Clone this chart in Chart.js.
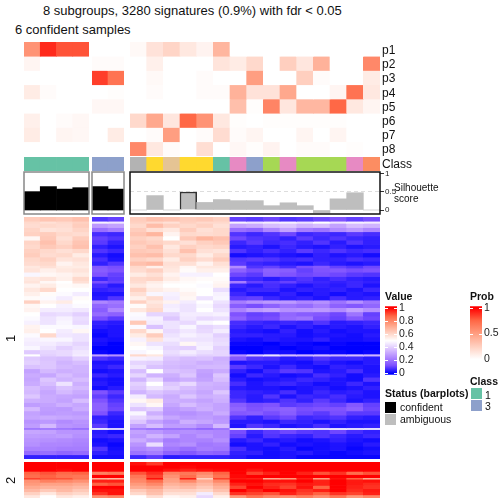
<!DOCTYPE html>
<html>
<head>
<meta charset="utf-8">
<script src="https://cdn.jsdelivr.net/npm/chart.js@4/dist/chart.umd.min.js"></script>
<style>
  html, body { margin: 0; padding: 0; background: #fff; }
  #page { position: relative; width: 504px; height: 504px; overflow: hidden; font-family: "Liberation Sans", sans-serif; color: #111; }
  #page canvas { position: absolute; }
  #page span { position: absolute; white-space: nowrap; line-height: 1; }
</style>
</head>
<body>
<div id="page"></div>
<script>
// membership probability, one line per subgroup, 21 sample columns
const probLabels = ["p1", "p2", "p3", "p4", "p5", "p6", "p7", "p8"];
const probRows = [
    [.55, .9, .8, .8, 0, 0, .03, .15, .22, .12, .06, .38, 0, 0, 0, 0, 0, 0, 0, 0, 0],
    [.05, 0, 0, 0, .02, .02, 0, .08, 0, 0, 0, .14, .1, .2, 0, .25, .13, .4, 0, 0, .6],
    [0, 0, 0, 0, .85, .7, 0, .03, 0, 0, .02, 0, 0, .5, 0, 0, .25, .02, 0, 0, .1],
    [.1, .02, 0, 0, 0, .01, 0, .02, 0, 0, .02, .02, .4, .15, .15, .45, 0, 0, .05, .7, .12],
    [0, 0, 0, 0, .04, .04, 0, 0, 0, 0, 0, 0, .33, .01, .62, .13, .37, .37, .75, .12, .05],
    [.08, 0, .02, .04, 0, 0, .2, .45, .13, .75, .55, .12, .01, 0, .01, .01, .01, .01, .01, 0, 0],
    [.1, 0, .05, .04, 0, .1, 0, .02, .5, 0, .02, .18, .02, .05, 0, 0, .05, 0, .05, 0, 0],
    [0, 0, 0, 0, 0, 0, .6, .12, .02, 0, .17, 0, .04, .01, .06, 0, .02, .02, 0, .01, 0],
];

const sampleClasses = [1, 1, 1, 1, 3, 3, 8, 6, 7, 6, 6, 1, 4, 3, 5, 4, 5, 5, 5, 4, 2];
const silhouette = [.51, .65, .58, .62, .65, .58, 0, .4, 0, .5, .21, .29, .26, .26, .12, .2, .12, -.08, .31, .48, 0];

// signature values in percent, cluster 1 then cluster 2
const valueRows1 = [
    [63, 65, 64, 66, 8, 10, 63, 66, 65, 63, 64, 62, 10, 9, 11, 8, 9, 11, 13, 10, 12],
    [60, 58, 60, 62, 47, 45, 62, 60, 58, 62, 60, 60, 47, 44, 46, 47, 44, 50, 45, 47, 46],
    [59, 60, 59, 63, 28, 30, 60, 67, 62, 60, 62, 58, 30, 32, 36, 38, 34, 36, 30, 36, 34],
    [61, 57, 58, 61, 19, 22, 63, 58, 56, 63, 58, 60, 19, 17, 24, 30, 22, 20, 25, 28, 24],
    [62, 63, 60, 59, 7, 6, 65, 69, 53, 60, 59, 60, 8, 6, 8, 11, 6, 7, 6, 9, 7],
    [52, 64, 58, 63, 10, 8, 62, 60, 50, 64, 69, 66, 11, 8, 7, 5, 9, 6, 8, 6, 5],
    [61, 66, 60, 65, 9, 5, 64, 62, 60, 58, 62, 64, 6, 9, 6, 7, 5, 8, 4, 8, 5],
    [60, 64, 62, 66, 5, 3, 62, 66, 56, 62, 60, 61, 4, 5, 3, 6, 4, 3, 5, 3, 4],
    [62, 60, 58, 60, 8, 6, 64, 63, 58, 66, 58, 57, 8, 5, 7, 5, 9, 6, 8, 6, 7],
    [63, 59, 60, 55, 4, 2, 66, 67, 60, 60, 55, 60, 2, 3, 4, 3, 2, 5, 3, 4, 2],
    [60, 62, 57, 58, 7, 3, 62, 60, 55, 62, 59, 63, 8, 9, 8, 6, 7, 5, 5, 7, 6],
    [59, 60, 53, 56, 5, 8, 66, 68, 58, 58, 53, 58, 9, 6, 5, 4, 3, 6, 4, 3, 4],
    [56, 58, 55, 55, 14, 12, 60, 54, 57, 52, 56, 56, 25, 8, 10, 7, 12, 14, 10, 8, 11],
    [57, 54, 56, 57, 15, 13, 59, 62, 56, 51, 54, 54, 16, 12, 16, 15, 10, 13, 14, 12, 13],
    [48, 52, 53, 55, 13, 10, 55, 58, 53, 47, 47, 50, 11, 9, 15, 13, 11, 12, 11, 9, 8],
    [56, 57, 54, 60, 6, 9, 60, 61, 55, 52, 51, 51, 7, 6, 4, 6, 8, 5, 7, 5, 4],
    [57, 52, 50, 58, 12, 10, 59, 55, 52, 51, 50, 52, 22, 10, 8, 10, 7, 6, 5, 6, 5],
    [53, 55, 51, 52, 7, 4, 56, 53, 50, 50, 49, 53, 6, 4, 7, 5, 3, 5, 4, 6, 3],
    [56, 60, 50, 50, 5, 6, 62, 55, 53, 51, 50, 43, 4, 6, 6, 3, 5, 4, 5, 3, 6],
    [54, 51, 49, 46, 3, 3, 58, 48, 47, 53, 50, 47, 6, 3, 3, 5, 2, 4, 2, 4, 3],
    [51, 49, 46, 51, 4, 8, 54, 59, 46, 52, 44, 48, 9, 10, 6, 4, 5, 3, 7, 4, 5],
    [62, 53, 55, 50, 24, 21, 62, 56, 53, 46, 50, 44, 22, 26, 28, 28, 24, 26, 20, 26, 20],
    [52, 50, 47, 49, 17, 19, 51, 58, 46, 44, 48, 42, 15, 12, 16, 20, 18, 22, 16, 14, 17],
    [53, 46, 46, 45, 15, 24, 56, 60, 47, 44, 50, 44, 23, 28, 30, 26, 27, 28, 25, 30, 26],
    [50, 42, 43, 40, 18, 16, 49, 41, 41, 46, 46, 47, 13, 10, 11, 17, 15, 14, 11, 20, 10],
    [49, 44, 47, 43, 12, 9, 48, 47, 38, 45, 42, 43, 16, 11, 12, 18, 20, 12, 10, 14, 11],
    [47, 44, 48, 42, 5, 4, 64, 46, 44, 42, 48, 50, 7, 6, 5, 6, 5, 8, 4, 5, 6],
    [53, 49, 49, 48, 4, 3, 49, 37, 44, 48, 41, 43, 6, 4, 6, 3, 5, 3, 4, 3, 5],
    [54, 50, 46, 52, 2, 3, 60, 52, 42, 45, 42, 46, 4, 3, 2, 5, 2, 4, 2, 3, 3],
    [49, 60, 45, 44, 1, 3, 55, 63, 44, 47, 45, 40, 5, 5, 4, 4, 2, 3, 3, 2, 4],
    [47, 48, 48, 44, 3, 2, 47, 57, 46, 44, 44, 42, 3, 2, 4, 3, 3, 5, 2, 2, 3],
    [46, 46, 44, 41, 2, 0, 52, 44, 43, 52, 46, 43, 1, 1, 0, 2, 1, 0, 1, 0, 0],
    [48, 44, 40, 43, 0, 0, 50, 48, 41, 40, 47, 40, 0, 0, 1, 0, 1, 2, 0, 0, 0],
    [39, 41, 42, 45, 1, 0, 48, 50, 43, 46, 43, 41, 1, 0, 2, 2, 0, 1, 1, 0, 1],
    [50, 40, 42, 46, 30, 26, 60, 56, 41, 43, 40, 41, 26, 38, 44, 36, 34, 36, 34, 36, 34],
    [39, 37, 36, 40, 8, 6, 47, 46, 38, 36, 37, 33, 14, 8, 7, 4, 5, 8, 6, 6, 4],
    [40, 38, 34, 36, 3, 3, 41, 40, 36, 35, 33, 34, 3, 4, 4, 3, 2, 5, 3, 2, 4],
    [37, 38, 35, 34, 4, 6, 44, 37, 35, 34, 35, 35, 9, 6, 3, 6, 3, 2, 5, 4, 3],
    [30, 35, 33, 34, 2, 3, 36, 50, 37, 36, 30, 32, 5, 2, 6, 9, 8, 3, 4, 7, 3],
    [32, 31, 36, 33, 6, 4, 41, 34, 33, 38, 29, 38, 2, 6, 4, 2, 3, 7, 5, 2, 4],
    [31, 38, 34, 36, 3, 2, 34, 42, 31, 33, 30, 36, 4, 2, 3, 4, 6, 5, 3, 2, 8],
    [32, 36, 44, 33, 4, 2, 40, 50, 38, 42, 34, 33, 7, 3, 5, 6, 4, 2, 3, 6, 3],
    [36, 33, 37, 35, 2, 4, 38, 44, 40, 36, 33, 32, 4, 3, 3, 2, 3, 4, 2, 3, 5],
    [35, 31, 35, 32, 13, 9, 34, 38, 35, 34, 31, 38, 6, 5, 4, 7, 3, 6, 4, 5, 3],
    [38, 32, 31, 30, 10, 6, 46, 35, 32, 38, 33, 34, 6, 4, 8, 3, 6, 5, 7, 4, 3],
    [33, 32, 30, 36, 13, 8, 52, 55, 33, 32, 30, 33, 8, 4, 5, 8, 5, 9, 6, 3, 5],
    [29, 30, 33, 31, 16, 10, 44, 52, 31, 36, 32, 30, 15, 12, 13, 9, 10, 11, 10, 14, 10],
    [35, 29, 28, 32, 16, 11, 38, 40, 28, 30, 33, 30, 17, 13, 15, 16, 12, 13, 13, 16, 11],
    [30, 28, 29, 28, 13, 6, 48, 33, 27, 26, 28, 32, 14, 15, 12, 15, 11, 9, 12, 9, 9],
    [31, 32, 31, 30, 5, 4, 42, 38, 31, 28, 29, 27, 8, 5, 9, 11, 6, 7, 8, 5, 4],
    [27, 28, 25, 27, 6, 3, 38, 30, 26, 33, 31, 28, 4, 4, 3, 6, 5, 3, 5, 3, 3],
    [29, 35, 27, 26, 9, 3, 30, 36, 29, 29, 25, 35, 3, 8, 6, 3, 4, 7, 3, 4, 5],
    [20, 20, 20, 18, 50, 46, 21, 18, 19, 19, 16, 19, 48, 47, 48, 49, 47, 48, 49, 48, 49],
    [31, 30, 27, 27, 4, 2, 30, 28, 25, 26, 25, 24, 12, 6, 9, 11, 9, 8, 11, 7, 5],
    [29, 28, 29, 26, 5, 6, 28, 34, 30, 24, 27, 24, 10, 4, 8, 6, 5, 8, 6, 4, 6],
    [27, 26, 25, 24, 2, 3, 32, 28, 22, 24, 23, 26, 4, 6, 3, 4, 2, 3, 5, 3, 2],
    [26, 24, 24, 23, 3, 1, 27, 43, 24, 26, 21, 22, 2, 3, 5, 2, 3, 2, 3, 2, 4],
    [23, 23, 22, 22, 8, 2, 24, 26, 21, 19, 22, 21, 7, 3, 2, 4, 1, 2, 3, 1, 2],
    [18, 19, 17, 18, 5, 3, 20, 22, 16, 14, 17, 16, 5, 5, 2, 3, 4, 2, 1, 2, 3],
    [5, 5, 5, 5, 2, 2, 6, 9, 4, 5, 5, 5, 4, 2, 2, 3, 1, 1, 1, 1, 1],
];
// thin stripes in the heatmap take a smaller share of the row height
const rowWeights1 = [1, .5, 1, 1, 1, 1, 1, 1, 1, 1, 1, 1, .6, 1, 1, 1, .6, 1, 1, 1, 1, .8, 1, 1, 1, 1, 1, 1, 1, 1, 1, 1, 1, 1, .5, 1, 1, 1, 1, 1, 1, 1, 1, 1, 1, 1, 1, 1, 1, 1, 1, 1, .4, 1, 1, 1, 1, 1, 1, 1];
const valueRows2 = [
    [100, 100, 100, 100, 100, 100, 98, 93, 100, 100, 100, 100, 100, 100, 100, 100, 100, 100, 100, 100, 100],
    [100, 100, 100, 100, 100, 100, 100, 100, 100, 99, 100, 100, 100, 100, 100, 100, 100, 100, 100, 100, 100],
    [100, 100, 99, 100, 100, 100, 100, 100, 98, 96, 98, 99, 100, 98, 100, 100, 100, 100, 100, 100, 100],
    [88, 90, 87, 88, 82, 84, 90, 95, 82, 84, 80, 88, 100, 92, 96, 100, 96, 90, 94, 86, 90],
    [86, 88, 85, 84, 100, 100, 84, 92, 78, 86, 76, 85, 99, 100, 100, 100, 100, 100, 100, 100, 100],
    [92, 90, 90, 85, 70, 68, 82, 98, 75, 96, 62, 92, 97, 96, 72, 76, 96, 75, 98, 88, 72],
    [78, 82, 80, 78, 96, 96, 80, 86, 74, 80, 72, 80, 100, 100, 98, 98, 100, 96, 100, 97, 98],
    [76, 74, 74, 72, 88, 90, 76, 80, 70, 72, 68, 74, 96, 98, 95, 94, 97, 96, 100, 97, 95],
    [72, 70, 70, 68, 100, 100, 72, 74, 66, 68, 64, 70, 92, 100, 96, 92, 98, 88, 100, 96, 94],
    [68, 64, 68, 64, 98, 98, 64, 68, 62, 62, 60, 66, 100, 96, 100, 98, 94, 96, 100, 95, 97],
    [62, 56, 62, 60, 94, 98, 60, 66, 58, 58, 46, 60, 94, 92, 90, 96, 92, 88, 94, 92, 96],
    [56, 50, 56, 54, 78, 80, 50, 58, 52, 54, 42, 54, 76, 84, 80, 78, 82, 78, 84, 76, 80],
];
const rowWeights2 = [1, 1, 1, 1, 1, .5, 1, 1, 1, 1, 1, 1];

const valueTicks = [0, .2, .4, .6, .8, 1];
const probTicks = [0, .5, 1];
const silhouetteTicks = [0, .5, 1];
const classLegend = [1, 3];

// sample columns of each split: first and one-past-last index
const splits = [[0, 4], [4, 6], [6, 21]];
const splitX = [[24, 89], [92, 124], [130, 380]];

const classColors = { 1: "#66C2A5", 2: "#FC8D62", 3: "#8DA0CB", 4: "#E78AC3", 5: "#A6D854", 6: "#FFD92F", 7: "#E5C494", 8: "#B3B3B3" };

// blue-white-red ramp, interpolated in Lab in the original so the stops are Lab samples
const rampStops = [
    [0, [0, 0, 255]], [.125, [126, 81, 255]], [.25, [178, 139, 255]], [.375, [220, 196, 255]],
    [.5, [255, 255, 255]], [.625, [255, 207, 191]], [.75, [255, 158, 129]], [.875, [255, 104, 70]], [1, [255, 0, 0]],
];

function rampColor(v) {
    v = Math.min(1, Math.max(0, v));
    for (let i = 1; i < rampStops.length; i++) {
        const [a, ca] = rampStops[i - 1];
        const [b, cb] = rampStops[i];
        if (v <= b) {
            const t = (v - a) / (b - a);
            return "rgb(" + ca.map((c, k) => Math.round(c + (cb[k] - c) * t)).join(",") + ")";
        }
    }
    return "rgb(255,0,0)";
}
const valueColor = (pct) => rampColor(pct / 100);
const probColor = (p) => rampColor(.5 + p / 2);

const page = document.getElementById("page");

function addCanvas(x, y, w, h) {
    const canvas = document.createElement("canvas");
    canvas.width = w;
    canvas.height = h;
    canvas.style.left = x + "px";
    canvas.style.top = y + "px";
    page.appendChild(canvas);
    return canvas;
}

function addText(text, x, y, size, extra) {
    const span = document.createElement("span");
    span.textContent = text;
    span.style.left = x + "px";
    span.style.top = y - size / 2 + "px";
    span.style.fontSize = size + "px";
    Object.assign(span.style, extra || {});
    page.appendChild(span);
    return span;
}

const baseOptions = {
    responsive: false,
    animation: false,
    events: [],
    plugins: { legend: { display: false }, tooltip: { enabled: false } },
};

// heatmap block: stacked bars, one dataset per row, each cell coloured from its value
function heatChart(x, y, w, h, rows, toColor, weights) {
    const total = weights ? weights.reduce((a, b) => a + b, 0) : rows.length;
    new Chart(addCanvas(x, y, w, h), {
        type: "bar",
        data: {
            labels: rows[0].map((_, i) => i),
            datasets: rows.map((row, r) => ({
                data: row.map(() => (weights ? weights[r] : 1)),
                backgroundColor: row.map(toColor),
                borderWidth: 0,
                categoryPercentage: 1,
                barPercentage: 1,
            })),
        },
        options: {
            ...baseOptions,
            layout: { padding: 0 },
            scales: {
                x: { display: false, stacked: true },
                y: { display: false, stacked: true, reverse: true, min: 0, max: total },
            },
        },
    });
}

const framePlugin = {
    id: "frame",
    afterDraw(chart, args, opts) {
        const a = chart.chartArea;
        chart.ctx.save();
        chart.ctx.strokeStyle = opts.color;
        chart.ctx.lineWidth = opts.width;
        chart.ctx.strokeRect(a.left, a.top, a.right - a.left, a.bottom - a.top);
        chart.ctx.restore();
    },
};

// silhouette bars, the last split carries the axis
function silhouetteChart(x0, x1, from, to, showAxis) {
    const pad = 6;
    const axisW = showAxis ? 24 : 0;
    const values = silhouette.slice(from, to);
    new Chart(addCanvas(x0 - pad, 172 - pad, x1 - x0 + pad + axisW + (showAxis ? 0 : pad), 42 + pad * 2), {
        type: "bar",
        data: {
            labels: values.map((_, i) => i),
            datasets: [{
                data: values,
                backgroundColor: values.map((_, i) => (from + i < 6 ? "#000" : "#BEBEBE")),
                borderColor: "#333",
                borderWidth: values.map((_, i) => (from + i === 9 ? 1.5 : 0)),
                categoryPercentage: 1,
                barPercentage: 1,
            }],
        },
        options: {
            ...baseOptions,
            layout: { padding: { left: pad, top: pad, bottom: pad, right: showAxis ? 0 : pad } },
            plugins: {
                ...baseOptions.plugins,
                frame: showAxis ? { color: "#111", width: 1.5 } : { color: "#888", width: 1.5 },
            },
            scales: {
                x: { display: false },
                y: {
                    display: showAxis,
                    position: "right",
                    min: -.111,
                    max: 1.055,
                    afterBuildTicks: (s) => { s.ticks = silhouetteTicks.map((v) => ({ value: v })); },
                    afterFit: (s) => { s.width = axisW; },
                    border: { display: false, dash: [4, 3] },
                    grid: {
                        color: (c) => (c.tick && c.tick.value === .5 ? "#DDD" : "transparent"),
                        tickColor: "#333",
                        tickLength: 4,
                    },
                    ticks: {
                        color: "#222",
                        padding: 1,
                        autoSkip: false,
                        font: { family: "Liberation Sans", size: 8 },
                        callback: (v) => String(v),
                    },
                },
            },
        },
        plugins: [framePlugin],
    });
}

// colour bar legends, a single bar spanning the scale filled with a gradient
function colorBar(x, top, h, zeroY, oneY, ticks, toColor, w) {
    const pad = 6;
    const unit = zeroY - oneY;
    const min = -(top + h - zeroY) / unit;
    const max = 1 + (oneY - top) / unit;
    const axisW = 20;
    new Chart(addCanvas(x, top - pad, w + axisW, h + pad * 2), {
        type: "bar",
        data: {
            labels: [""],
            datasets: [{
                data: [[min, max]],
                borderWidth: 0,
                categoryPercentage: 1,
                barPercentage: 1,
                backgroundColor: (c) => {
                    const area = c.chart.chartArea;
                    if (!area) return "#fff";
                    const scale = c.chart.scales.y;
                    const g = c.chart.ctx.createLinearGradient(0, scale.getPixelForValue(0), 0, scale.getPixelForValue(1));
                    for (let i = 0; i <= 40; i++) g.addColorStop(i / 40, toColor(i / 40));
                    return g;
                },
            }],
        },
        options: {
            ...baseOptions,
            layout: { padding: { top: pad, bottom: pad } },
            scales: {
                x: { display: false },
                y: {
                    position: "right",
                    min: min,
                    max: max,
                    afterBuildTicks: (s) => { s.ticks = ticks.map((v) => ({ value: v })); },
                    afterFit: (s) => { s.width = axisW; },
                    border: { display: false },
                    grid: { display: false, drawTicks: false },
                    ticks: {
                        color: "#222",
                        padding: 2,
                        autoSkip: false,
                        font: { family: "Liberation Sans", size: 10.5 },
                        callback: (v) => String(v),
                    },
                },
            },
        },
        plugins: [{
            id: "tickDashes",
            afterDatasetsDraw(chart) {
                const a = chart.chartArea;
                const ctx = chart.ctx;
                ctx.save();
                ctx.strokeStyle = "#fff";
                ctx.lineWidth = 1;
                ctx.beginPath();
                ticks.forEach((v) => {
                    const py = Math.round(chart.scales.y.getPixelForValue(v)) + .5;
                    ctx.moveTo(a.left, py);
                    ctx.lineTo(a.left + 3, py);
                    ctx.moveTo(a.right - 3, py);
                    ctx.lineTo(a.right, py);
                });
                ctx.stroke();
                ctx.restore();
            },
        }],
    });
}

// one chart per block, one block per split
splits.forEach(([from, to], i) => {
    const [x0, x1] = splitX[i];
    const w = x1 - x0;
    const cut = (rows) => rows.map((r) => r.slice(from, to));
    heatChart(x0, 42, w, 114, cut(probRows), probColor);
    heatChart(x0, 157, w, 14, [sampleClasses.slice(from, to)], (c) => classColors[c]);
    silhouetteChart(x0, x1, from, to, i === 2);
    heatChart(x0, 217, w, 242, cut(valueRows1), valueColor, rowWeights1);
    heatChart(x0, 462, w, 36, cut(valueRows2), valueColor, rowWeights2);
});

colorBar(385, 304, 73, 375.7, 305.7, valueTicks, rampColor, 12.5);
colorBar(470, 304, 58, 361.5, 305.7, probTicks, (v) => rampColor(.5 + v / 2), 12.5);

// text
addText("8 subgroups, 3280 signatures (0.9%) with fdr < 0.05", 43, 10, 13);
addText("6 confident samples", 15, 29, 13);
probLabels.forEach((label, i) => addText(label, 382, 50 + i * 14.2, 12));
addText("Class", 382, 164, 12);
addText("Silhouette", 394, 188, 10);
addText("score", 394, 199, 10);
addText("1", 6.5, 338, 13, { transform: "rotate(-90deg)" });
addText("2", 6.5, 480, 13, { transform: "rotate(-90deg)" });

addText("Value", 385, 296, 10.5, { fontWeight: "bold" });
addText("Prob", 470, 296, 10.5, { fontWeight: "bold" });
addText("Class", 470, 381, 10.5, { fontWeight: "bold" });
addText("Status (barplots)", 385, 393, 10.5, { fontWeight: "bold" });

// legend swatches are plain boxes
function swatch(x, y, w, h, color) {
    const box = document.createElement("span");
    Object.assign(box.style, { left: x + "px", top: y + "px", width: w + "px", height: h + "px", background: color });
    page.appendChild(box);
}
swatch(385, 402, 11, 10.5, "#000");
swatch(385, 414, 11, 10.5, "#BEBEBE");
addText("confident", 400, 407, 10.5);
addText("ambiguous", 400, 419, 10.5);
classLegend.forEach((c, i) => {
    swatch(471, 388 + i * 11.5, 11, 11, classColors[c]);
    addText(String(c), 485, 395 + i * 11, 10.5);
});
</script>
</body>
</html>
